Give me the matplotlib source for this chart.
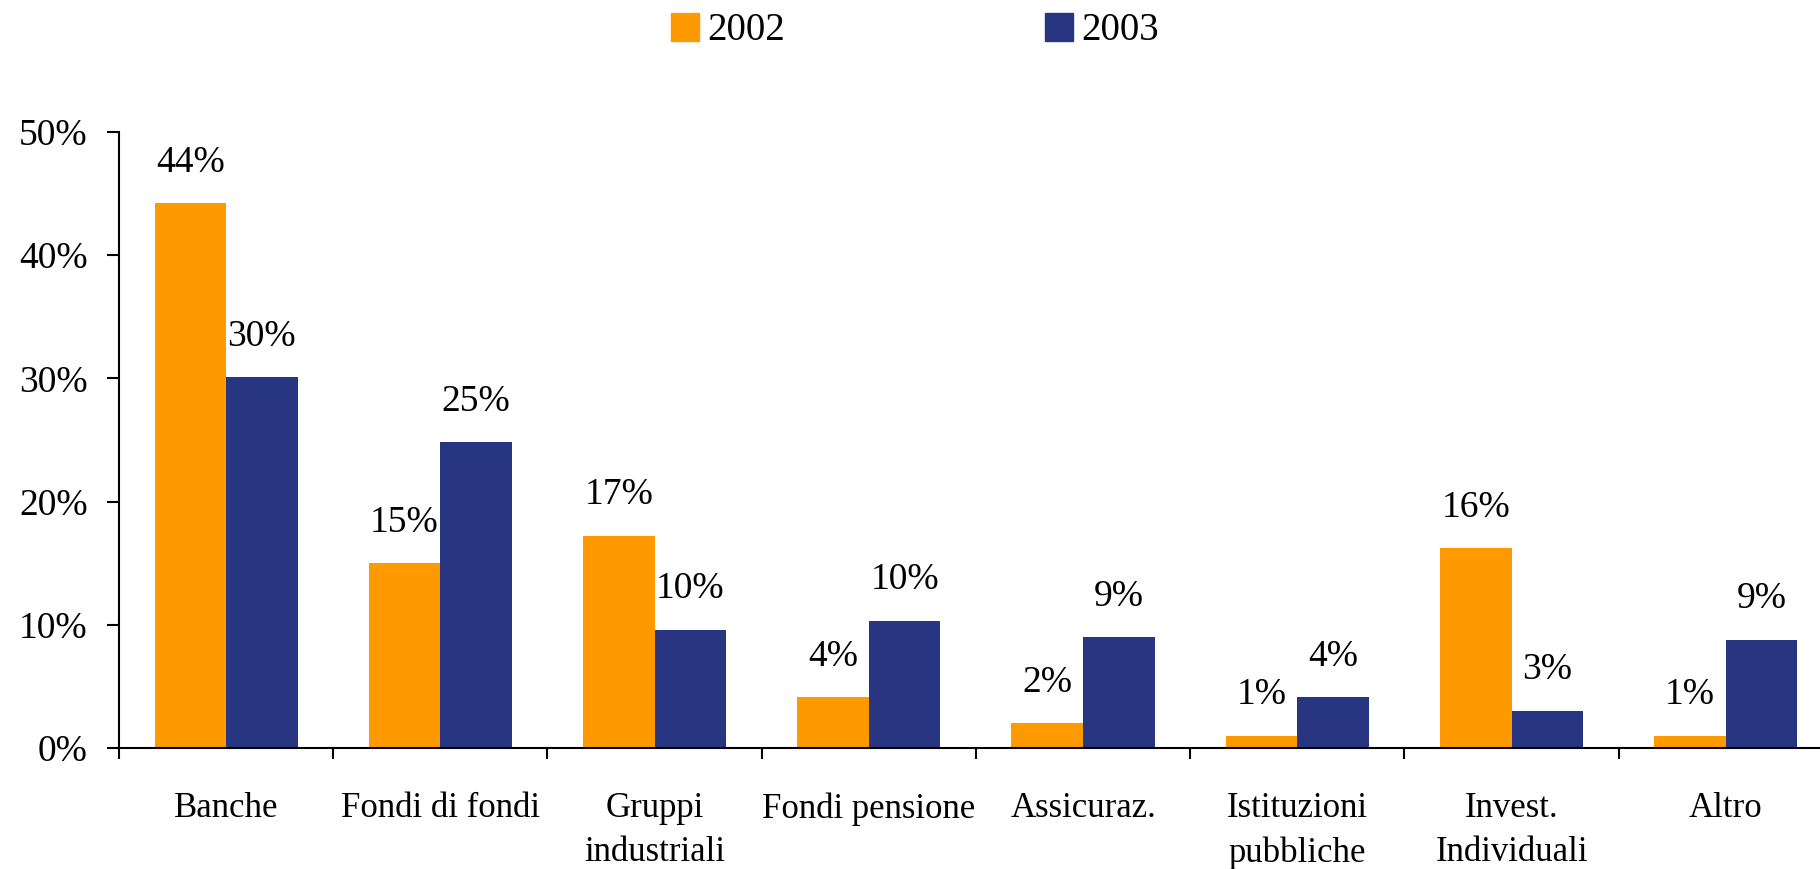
import matplotlib.pyplot as plt
from matplotlib.patches import Patch
import numpy as np

categories = ['Banche', 'Fondi di fondi', 'Gruppi\nindustriali', 'Fondi pensione',
              'Assicuraz.', 'Istituzioni\npubbliche', 'Invest.\nIndividuali', 'Altro']
v2002 = [44.2, 15.0, 17.2, 4.1, 2.0, 1.0, 16.2, 1.0]
v2003 = [30.1, 24.8, 9.6, 10.3, 9.0, 4.1, 3.0, 8.8]
yticks = [0, 10, 20, 30, 40, 50]

plt.rcParams['font.family'] = ['Liberation Serif', 'DejaVu Serif']

c02 = '#FF9900'
c03 = '#283580'

fig = plt.figure(figsize=(18.2, 8.69), dpi=100)
ax = fig.add_axes([119/1820, 121/869, 1701/1820, 616/869])

x = np.arange(len(categories))
w = 0.334
b1 = ax.bar(x - w/2, v2002, w, color=c02)
b2 = ax.bar(x + w/2, v2003, w, color=c03)

ax.bar_label(b1, labels=[f'{v:.0f}%' for v in v2002], padding=17, fontsize=27)
ax.bar_label(b2, labels=[f'{v:.0f}%' for v in v2003], padding=17, fontsize=27)

ax.set_xlim(-0.5, 7.44)
ax.set_ylim(0, 50)
ax.set_yticks(yticks)
ax.set_yticklabels([f'{t}%' for t in yticks])

# boundaries get tick marks, centres get the labels
ax.set_xticks(np.arange(len(categories)) - 0.5)
ax.set_xticklabels([])
ax.set_xticks(x, minor=True)
ax.set_xticklabels(categories, minor=True, fontsize=25, linespacing=1.42, va='top')
ax.tick_params(axis='x', which='major', direction='out', length=8, width=1.5)
ax.tick_params(axis='x', which='minor', length=0, pad=32)
ax.tick_params(axis='y', direction='out', length=8.6, width=1.5, labelsize=27, pad=14)

for s in ['top', 'right']:
    ax.spines[s].set_visible(False)
for s in ['left', 'bottom']:
    ax.spines[s].set_linewidth(1.5)

handles = [Patch(color=c02, label='2002'), Patch(color=c03, label='2003')]
fig.legend(handles=handles, loc='center', bbox_to_anchor=(915/1820, 1 - 31/869), ncol=2,
           frameon=False, fontsize=28, handlelength=0.72, handleheight=0.72,
           handletextpad=0.2, columnspacing=6.7)

fig.savefig('out.png', dpi=100)
